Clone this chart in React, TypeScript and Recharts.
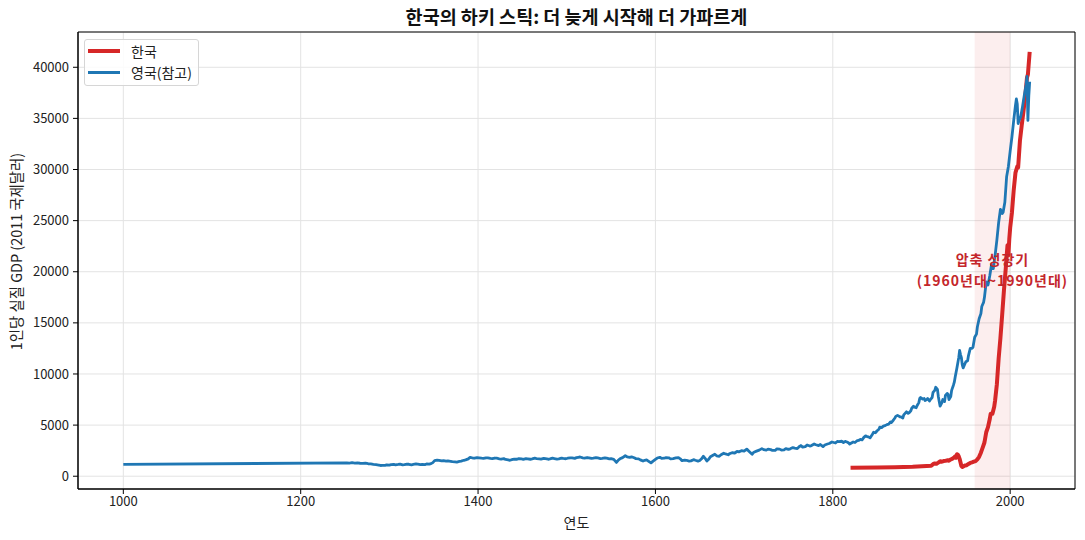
import React from 'react';
import { ComposedChart, Line, XAxis, YAxis, CartesianGrid, ReferenceArea, ReferenceDot, Label } from 'recharts';

const FONT = '"Noto Sans CJK KR", "Noto Sans", sans-serif';

const chartTitle = '한국의 하키 스틱: 더 늦게 시작해 더 가파르게';
const xLabel = '연도';
const yLabel = '1인당 실질 GDP (2011 국제달러)';
const seriesNames = ['한국', '영국(참고)'];
const seriesColors = ['#d62728', '#1f77b4'];
const boomRange = [1960, 2000];
const boomText = ['압축 성장기', '(1960년대~1990년대)'];

const xTicks = [1000, 1200, 1400, 1600, 1800, 2000];
const yTicks = [0, 5000, 10000, 15000, 20000, 25000, 30000, 35000, 40000];

// [연도, 1인당 GDP]
const krSeries = [
  [1820, 820], [1850, 850], [1870, 880], [1890, 920], [1911, 1030], [1913, 1180], [1915, 1250],
  [1917, 1230], [1919, 1330], [1921, 1460], [1923, 1420], [1925, 1480], [1927, 1500], [1929, 1560],
  [1931, 1520], [1933, 1640], [1935, 1720], [1937, 1850], [1938, 1950], [1939, 1800], [1940, 2150],
  [1941, 2100], [1942, 1950], [1943, 1700], [1945, 1000], [1946, 900], [1947, 950], [1949, 1050],
  [1951, 1080], [1953, 1200], [1955, 1300], [1957, 1350], [1959, 1420], [1961, 1480], [1963, 1650],
  [1965, 1900], [1967, 2300], [1969, 2800], [1971, 3300], [1973, 4300], [1975, 4800], [1977, 5600],
  [1978, 6100], [1980, 6100], [1982, 6800], [1983, 7400], [1985, 9000], [1987, 11500], [1989, 13500],
  [1991, 15800], [1993, 18200], [1995, 20300], [1996, 21500], [1997, 22600], [1998, 21600],
  [1999, 23200], [2000, 24300], [2002, 25800], [2004, 28000], [2006, 29700], [2008, 30300],
  [2009, 30200], [2011, 32800], [2013, 34300], [2015, 35700], [2017, 37200], [2019, 39000],
  [2020, 39300], [2022, 41500],
];

const ukSeries = [
  [1000, 1150],
  [1252, 1310], [1255, 1280], [1258, 1320], [1261, 1290], [1264, 1300], [1267, 1270], [1270, 1250],
  [1273, 1270], [1276, 1220], [1279, 1200], [1282, 1160], [1285, 1130], [1288, 1090], [1290, 1050],
  [1292, 1070], [1295, 1060], [1297, 1110], [1300, 1090], [1302, 1140], [1305, 1160], [1307, 1120],
  [1310, 1150], [1312, 1180], [1315, 1110], [1317, 1130], [1320, 1190], [1322, 1170], [1325, 1120],
  [1327, 1150], [1330, 1200], [1332, 1190], [1335, 1140], [1337, 1160], [1340, 1130], [1342, 1200],
  [1345, 1180], [1347, 1230], [1349, 1330], [1351, 1520], [1354, 1580], [1356, 1560], [1359, 1500],
  [1361, 1530], [1364, 1470], [1366, 1500], [1369, 1460], [1371, 1430], [1374, 1400], [1376, 1380],
  [1379, 1450], [1381, 1480], [1384, 1560], [1386, 1600], [1389, 1700], [1391, 1850], [1394, 1780],
  [1396, 1760], [1399, 1820], [1401, 1800], [1404, 1760], [1406, 1740], [1409, 1800], [1411, 1790],
  [1414, 1740], [1416, 1720], [1419, 1780], [1421, 1760], [1424, 1700], [1426, 1680], [1429, 1720],
  [1431, 1640], [1434, 1600], [1436, 1560], [1439, 1640], [1441, 1680], [1444, 1660], [1446, 1720],
  [1449, 1690], [1451, 1650], [1454, 1720], [1456, 1700], [1459, 1660], [1461, 1690], [1464, 1760],
  [1466, 1730], [1469, 1700], [1471, 1670], [1474, 1740], [1476, 1710], [1479, 1660], [1481, 1690],
  [1484, 1760], [1486, 1730], [1489, 1680], [1491, 1700], [1494, 1770], [1496, 1740], [1499, 1710],
  [1501, 1760], [1504, 1800], [1506, 1790], [1509, 1750], [1511, 1820], [1513, 1850], [1515, 1880],
  [1518, 1800], [1520, 1780], [1523, 1830], [1525, 1800], [1528, 1740], [1530, 1760], [1533, 1820],
  [1535, 1790], [1538, 1730], [1540, 1750], [1543, 1800], [1545, 1770], [1548, 1700], [1550, 1720],
  [1553, 1650], [1556, 1350], [1558, 1560], [1560, 1700], [1563, 1820], [1566, 2000], [1568, 1900],
  [1571, 1850], [1573, 1900], [1576, 1800], [1578, 1720], [1581, 1700], [1583, 1600], [1586, 1480],
  [1588, 1560], [1590, 1600], [1592, 1480], [1595, 1300], [1597, 1450], [1600, 1650], [1602, 1780],
  [1605, 1850], [1607, 1740], [1610, 1760], [1612, 1820], [1615, 1800], [1617, 1700], [1620, 1730],
  [1623, 1800], [1626, 1820], [1628, 1700], [1630, 1520], [1633, 1580], [1635, 1560], [1638, 1480],
  [1640, 1500], [1643, 1620], [1645, 1560], [1648, 1480], [1650, 1540], [1652, 1700], [1654, 1950],
  [1656, 1750], [1658, 1480], [1660, 1650], [1662, 1900], [1664, 2000], [1667, 2150], [1669, 2000],
  [1672, 1950], [1674, 2100], [1677, 2250], [1679, 2180], [1682, 2100], [1684, 2220], [1687, 2300],
  [1689, 2250], [1692, 2420], [1694, 2380], [1697, 2500], [1700, 2450], [1703, 2650], [1706, 2400],
  [1709, 2150], [1711, 2350], [1714, 2450], [1717, 2550], [1720, 2700], [1722, 2600], [1725, 2550],
  [1727, 2650], [1730, 2600], [1732, 2520], [1735, 2520], [1737, 2680], [1740, 2650], [1742, 2560],
  [1745, 2580], [1747, 2700], [1750, 2620], [1752, 2680], [1755, 2800], [1757, 2750], [1760, 2700],
  [1762, 2880], [1764, 3000], [1766, 2850], [1769, 2900], [1771, 3050], [1774, 2950], [1776, 3000],
  [1779, 3150], [1781, 3080], [1784, 3000], [1786, 3100], [1789, 2900], [1791, 3050], [1794, 3150],
  [1796, 3200], [1799, 3350], [1801, 3300], [1803, 3250], [1805, 3400], [1807, 3380], [1810, 3420],
  [1812, 3300], [1814, 3400], [1816, 3350], [1818, 3250], [1819, 3150], [1821, 3250], [1823, 3350],
  [1825, 3300], [1827, 3450], [1829, 3500], [1831, 3600], [1833, 3550], [1835, 3800], [1837, 3950],
  [1838, 3900], [1840, 3850], [1842, 3750], [1844, 4000], [1846, 4300], [1848, 4250], [1850, 4450],
  [1852, 4600], [1853, 4800], [1855, 4750], [1857, 4900], [1859, 4950], [1861, 5050], [1863, 5100],
  [1865, 5300], [1866, 5250], [1868, 5450], [1870, 5700], [1871, 5850], [1873, 5950], [1874, 5900],
  [1876, 5800], [1877, 5800], [1879, 5700], [1880, 6000], [1882, 6200], [1883, 6300], [1885, 6150],
  [1886, 6200], [1888, 6400], [1889, 6650], [1891, 6850], [1892, 6750], [1894, 6700], [1895, 6900],
  [1897, 7200], [1898, 7600], [1899, 7700], [1901, 7550], [1903, 7600], [1904, 7400], [1906, 7500],
  [1907, 7600], [1909, 7350], [1910, 7500], [1912, 7700], [1913, 8200], [1915, 8400], [1916, 8700],
  [1918, 8500], [1919, 7800], [1920, 7300], [1921, 6850], [1923, 7200], [1924, 7500], [1926, 7300],
  [1927, 7900], [1929, 8100], [1930, 8000], [1931, 7500], [1933, 7800], [1934, 8400], [1936, 8900],
  [1937, 9200], [1938, 9700], [1940, 10600], [1942, 11600], [1943, 12300], [1944, 11900],
  [1945, 11600], [1946, 10900], [1947, 10600], [1949, 11000], [1950, 11200], [1952, 11300],
  [1953, 11800], [1955, 12500], [1957, 12500], [1958, 12600], [1960, 13600], [1962, 13900],
  [1963, 14600], [1965, 15400], [1967, 15900], [1968, 16600], [1970, 17000], [1971, 17500],
  [1973, 19000], [1974, 18900], [1975, 18700], [1977, 19600], [1979, 20700], [1980, 20300],
  [1981, 20300], [1983, 21600], [1985, 23100], [1987, 24800], [1989, 26100], [1991, 25700],
  [1992, 25800], [1994, 26800], [1996, 29300], [1998, 30300], [2000, 31800], [2002, 33200],
  [2004, 34800], [2006, 36300], [2007, 36900], [2008, 36400], [2009, 34500], [2010, 34800],
  [2012, 35200], [2014, 36200], [2016, 37300], [2018, 38300], [2019, 39100], [2020, 34800],
  [2021, 37200], [2022, 38600],
];

const krData = krSeries.map(([year, gdp]) => ({ year, gdp }));
const ukData = ukSeries.map(([year, gdp]) => ({ year, gdp }));

const X_DOMAIN = [948.9, 2073.1];
const Y_DOMAIN = [-1250, 43450];
const tickStyle = { fill: '#222', fontSize: 13, fontFamily: FONT };

const YAxisTitle = (props: any) => {
  const vb = props.viewBox;
  const cx = vb.x + 15;
  const cy = vb.y + vb.height / 2 - 9;
  return (
    <text x={cx} y={cy} transform={`rotate(-90 ${cx} ${cy})`} textAnchor="middle" dominantBaseline="central"
      fontSize={14.4} fill="#222" fontFamily={FONT}>{yLabel}</text>
  );
};

const BoomLabel = (props: any) => {
  const { x, y } = props.viewBox;
  return (
    <text x={x} textAnchor="middle" fontSize={14} fontWeight={700} fill="#c4262b" fontFamily={FONT} letterSpacing={1}>
      <tspan x={x} y={y - 5.5}>{boomText[0]}</tspan>
      <tspan x={x} y={y + 15.5}>{boomText[1]}</tspan>
    </text>
  );
};

const App: React.FC = () => {
  return (
    <div style={{ position: 'absolute', left: 0, top: 0, width: 1085, height: 540, background: '#fff', fontFamily: FONT }}>
      <div style={{ position: 'absolute', left: 78, width: 997, top: 3, textAlign: 'center', fontSize: 18.5, fontWeight: 700, color: '#111' }}>
        {chartTitle}
      </div>
      <ComposedChart width={1085} height={540} margin={{ top: 32, right: 10, bottom: 0, left: 0 }}>
        <CartesianGrid stroke="#e3e3e3" strokeWidth={1} />
        <ReferenceArea x1={boomRange[0]} x2={boomRange[1]} fill="#d62728" fillOpacity={0.08} stroke="none" ifOverflow="hidden" />
        <XAxis dataKey="year" type="number" domain={X_DOMAIN} ticks={xTicks} allowDataOverflow height={51}
          tickSize={5} tickMargin={3} tick={tickStyle} stroke="#000" tickLine={{ stroke: '#000' }}>
          <Label value={xLabel} position="insideBottom" offset={12} fill="#222" fontSize={14} fontFamily={FONT} />
        </XAxis>
        <YAxis type="number" domain={Y_DOMAIN} ticks={yTicks} allowDataOverflow width={78}
          tickSize={5} tickMargin={4} tick={tickStyle} stroke="#000" tickLine={{ stroke: '#000' }}>
          <Label content={YAxisTitle} />
        </YAxis>
        <Line data={krData} dataKey="gdp" name={seriesNames[0]} stroke={seriesColors[0]} strokeWidth={4}
          dot={false} activeDot={false} isAnimationActive={false} strokeLinejoin="round" />
        <Line data={ukData} dataKey="gdp" name={seriesNames[1]} stroke={seriesColors[1]} strokeWidth={2.8}
          dot={false} activeDot={false} isAnimationActive={false} strokeLinejoin="round" />
        <ReferenceDot x={1980} y={20100} r={0} fill="none" stroke="none" label={<BoomLabel />} />
        <ReferenceArea x1={X_DOMAIN[0]} x2={X_DOMAIN[1]} y1={Y_DOMAIN[0]} y2={Y_DOMAIN[1]} fill="none" fillOpacity={0}
          stroke="#000" strokeWidth={1} ifOverflow="visible" />
      </ComposedChart>
      <div style={{ position: 'absolute', left: 84, top: 39, width: 113, height: 45, border: '1px solid #d6d6d6', borderRadius: 3,
        background: 'rgba(255,255,255,0.85)', fontSize: 14, color: '#222' }}>
        {seriesNames.map((name, i) => (
          <div key={name} style={{ position: 'absolute', left: 3, top: 3 + i * 21, height: 16, display: 'flex', alignItems: 'center' }}>
            <div style={{ width: 32, height: i === 0 ? 4 : 3, background: seriesColors[i] }} />
            <span style={{ marginLeft: 11, lineHeight: '16px' }}>{name}</span>
          </div>
        ))}
      </div>
    </div>
  );
};

export default App;
